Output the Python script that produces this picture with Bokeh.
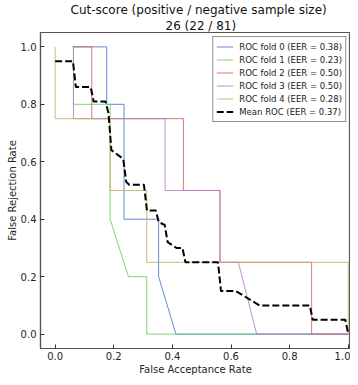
from bokeh.plotting import figure
from bokeh.models import (Range1d, LinearAxis, FixedTicker, Legend, LegendItem, Title,
                          PrintfTickFormatter)
from bokeh.embed import file_html
from bokeh.resources import INLINE

# ---- data ----
fold0_far = [0.059, 0.176, 0.176, 0.235, 0.235, 0.353, 0.353, 0.412, 1.0]
fold0_frr = [1.0, 1.0, 0.8, 0.8, 0.4, 0.4, 0.2, 0.0, 0.0]
fold1_far = [0.0625, 0.0625, 0.1875, 0.1875, 0.25, 0.3125, 0.3125, 1.0]
fold1_frr = [1.0, 0.8, 0.8, 0.4, 0.2, 0.2, 0.0, 0.0]
fold2_far = [0.0625, 0.125, 0.125, 0.4375, 0.4375, 0.5625, 0.5625, 0.875, 0.875, 1.0]
fold2_frr = [1.0, 1.0, 0.75, 0.75, 0.5, 0.5, 0.25, 0.25, 0.0, 0.0]
fold3_far = [0.0625, 0.0625, 0.375, 0.375, 0.5625, 0.5625, 0.625, 0.6875, 1.0]
fold3_frr = [1.0, 0.75, 0.75, 0.5, 0.5, 0.25, 0.25, 0.0, 0.0]
fold4_far = [0.0, 0.0, 0.1875, 0.1875, 0.3125, 0.3125, 1.0, 1.0]
fold4_frr = [1.0, 0.75, 0.75, 0.5, 0.5, 0.25, 0.25, 0.0]
mean_far = [0.0, 0.0606, 0.0707, 0.1212, 0.1313, 0.1717, 0.1818, 0.1919, 0.2323,
            0.2424, 0.2525, 0.3030, 0.3131, 0.3434, 0.3535, 0.3737, 0.3838, 0.4141,
            0.4343, 0.4444, 0.5556, 0.5657, 0.6162, 0.6970, 0.8687, 0.8788, 0.9899, 1.0]
mean_frr = [0.95, 0.95, 0.86, 0.86, 0.81, 0.81, 0.77, 0.64, 0.61,
            0.53, 0.52, 0.52, 0.43, 0.43, 0.39, 0.38, 0.32, 0.30,
            0.30, 0.25, 0.25, 0.15, 0.15, 0.10, 0.10, 0.05, 0.05, 0.0]
fold_labels = ["ROC fold 0 (EER = 0.38)", "ROC fold 1 (EER = 0.23)",
               "ROC fold 2 (EER = 0.50)", "ROC fold 3 (EER = 0.50)",
               "ROC fold 4 (EER = 0.28)"]
mean_label = "Mean ROC (EER = 0.37)"
title_line1 = "Cut-score (positive / negative sample size)"
title_line2 = "26 (22 / 81)"
x_label = "False Acceptance Rate"
y_label = "False Rejection Rate"
tick_values = [0.0, 0.2, 0.4, 0.6, 0.8, 1.0]

colors = ["#4878CF", "#6ACC65", "#D65F5F", "#B47CC7", "#C4AD66"]
FONT = "DejaVu Sans"

p = figure(width=350, height=377, output_backend="svg", toolbar_location=None,
           x_range=Range1d(-0.05, 1.0076), y_range=Range1d(-0.05, 1.05),
           min_border_left=40, min_border_right=0, min_border_top=30, min_border_bottom=25,
           x_axis_location=None, y_axis_location=None)
p.outline_line_color = "#555555"
p.outline_line_width = 1.2
p.xgrid.visible = False
p.ygrid.visible = False
p.background_fill_color = "white"
p.border_fill_color = "white"

def style_axis(ax):
    ax.ticker = FixedTicker(ticks=tick_values)
    ax.formatter = PrintfTickFormatter(format="%.1f")
    ax.minor_tick_line_color = None
    ax.major_tick_in = 4
    ax.major_tick_out = 0
    ax.major_tick_line_color = "#333333"
    ax.axis_line_color = "#555555"
    ax.axis_line_width = 1.2
    ax.major_label_text_font = FONT
    ax.major_label_text_font_size = "10px"
    ax.major_label_text_color = "#262626"
    ax.axis_label_text_font = FONT
    ax.axis_label_text_font_size = "10px"
    ax.axis_label_text_font_style = "normal"
    ax.axis_label_text_color = "#262626"

t2 = Title(text=title_line2, align="left", offset=125, standoff=0,
           text_font=FONT, text_font_size="12px", text_font_style="normal",
           text_color="#111111")
t1 = Title(text=title_line1, align="left", offset=30, standoff=0,
           text_font=FONT, text_font_size="12px", text_font_style="normal",
           text_color="#111111")
p.add_layout(t2, "above")
p.add_layout(t1, "above")

xb = LinearAxis(axis_label=x_label)
style_axis(xb)
xb.major_label_standoff = 3
xb.axis_label_standoff = 1
p.add_layout(xb, "below")

yl = LinearAxis(axis_label=y_label)
style_axis(yl)
yl.major_label_standoff = 4
yl.axis_label_standoff = 0
p.add_layout(yl, "left")

items = []
fars = [fold0_far, fold1_far, fold2_far, fold3_far, fold4_far]
frrs = [fold0_frr, fold1_frr, fold2_frr, fold3_frr, fold4_frr]
for i in range(5):
    r = p.line(fars[i], frrs[i], line_color=colors[i], line_width=1, line_alpha=0.85)
    items.append(LegendItem(label=fold_labels[i], renderers=[r]))
rm = p.line(mean_far, mean_frr, line_color="black", line_width=2, line_dash="7 3")
items.append(LegendItem(label=mean_label, renderers=[rm]))

legend = Legend(items=items, location="top_right")
legend.label_text_font = FONT
legend.label_text_font_size = "8.5px"
legend.label_text_color = "#1a1a1a"
legend.label_height = 13
legend.glyph_height = 13
legend.glyph_width = 17
legend.label_standoff = 6
legend.spacing = 0
legend.padding = 3
legend.margin = 4
legend.border_line_color = "#222222"
legend.border_line_width = 1
legend.background_fill_alpha = 1
p.add_layout(legend, "center")

open("out.html", "w").write(file_html(p, INLINE))
